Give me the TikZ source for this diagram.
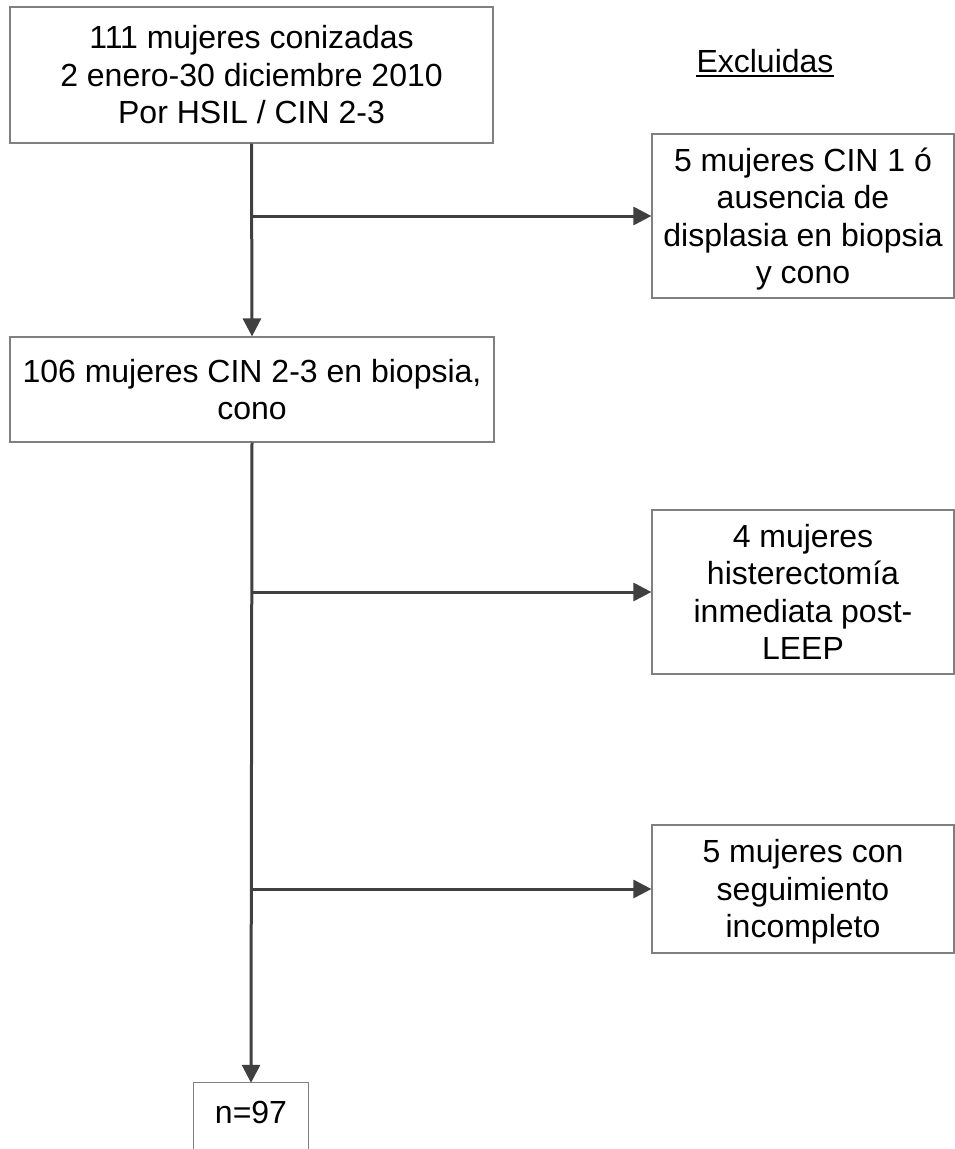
\documentclass[tikz,border=0pt]{standalone}
\usepackage{fontspec}
\setmainfont{Liberation Sans}
\usetikzlibrary{arrows.meta}
\definecolor{boxgray}{HTML}{808080}
\definecolor{linegray}{HTML}{404040}
\begin{document}
\begin{tikzpicture}[x=1pt,y=-1pt,
  font=\fontsize{32}{37.5}\selectfont,
  box/.style={draw=boxgray,line width=1.2pt,inner sep=0pt,align=center,fill=white},
  conn/.style={draw=linegray,line width=3pt,-{Triangle[length=18pt,width=18pt]}}]
\useasboundingbox (0,0) rectangle (955,1149);
\fill[white] (0,0) rectangle (955,1149);
% main boxes
\node[box,minimum width=483pt,minimum height=136pt] (b1) at (251.5,75)
  {111 mujeres conizadas\\2 enero-30 diciembre 2010\\Por HSIL / CIN 2-3};
\node[box,minimum width=484pt,minimum height=105pt] (b3) at (252,389.5)
  {106 mujeres CIN 2-3 en biopsia,\\cono};
% excluded boxes
\node[box,minimum width=302pt,minimum height=164pt,text depth=1pt] (e1) at (803,216)
  {5 mujeres CIN 1 ó\\ausencia de\\displasia en biopsia\\y cono};
\node[box,minimum width=302pt,minimum height=164pt] (e2) at (803,592)
  {4 mujeres\\histerectomía\\inmediata post-\\LEEP};
\node[box,minimum width=302pt,minimum height=128pt,text depth=1pt] (e3) at (803,889)
  {5 mujeres con\\seguimiento\\incompleto};
% Excluidas label
\node[anchor=base,inner sep=0pt] (ex) at (765,72) {Excluidas};
\draw[line width=2pt,black] ([yshift=-4pt]ex.base west) -- ([yshift=-4pt]ex.base east);
% final box (open at the bottom edge)
\node[inner sep=0pt,minimum width=114pt,minimum height=66pt] (n97) at (251,1116)
  {\raisebox{8pt}{n=97}};
\draw[boxgray,line width=1.2pt] (n97.south west) -- (n97.north west) -- (n97.north east) -- (n97.south east);
% junctions
\coordinate (j1) at (b1.south |- e1.west);
\coordinate (j2) at (b3.south |- e2.west);
\coordinate (j3) at (b3.south |- e3.west);
% connectors
\draw[conn] (b1.south) -- (b3.north);
\draw[conn] (b3.south) -- (n97.north);
\draw[conn] (j1) -- (e1.west);
\draw[conn] (j2) -- (e2.west);
\draw[conn] (j3) -- (e3.west);
\end{tikzpicture}
\end{document}
